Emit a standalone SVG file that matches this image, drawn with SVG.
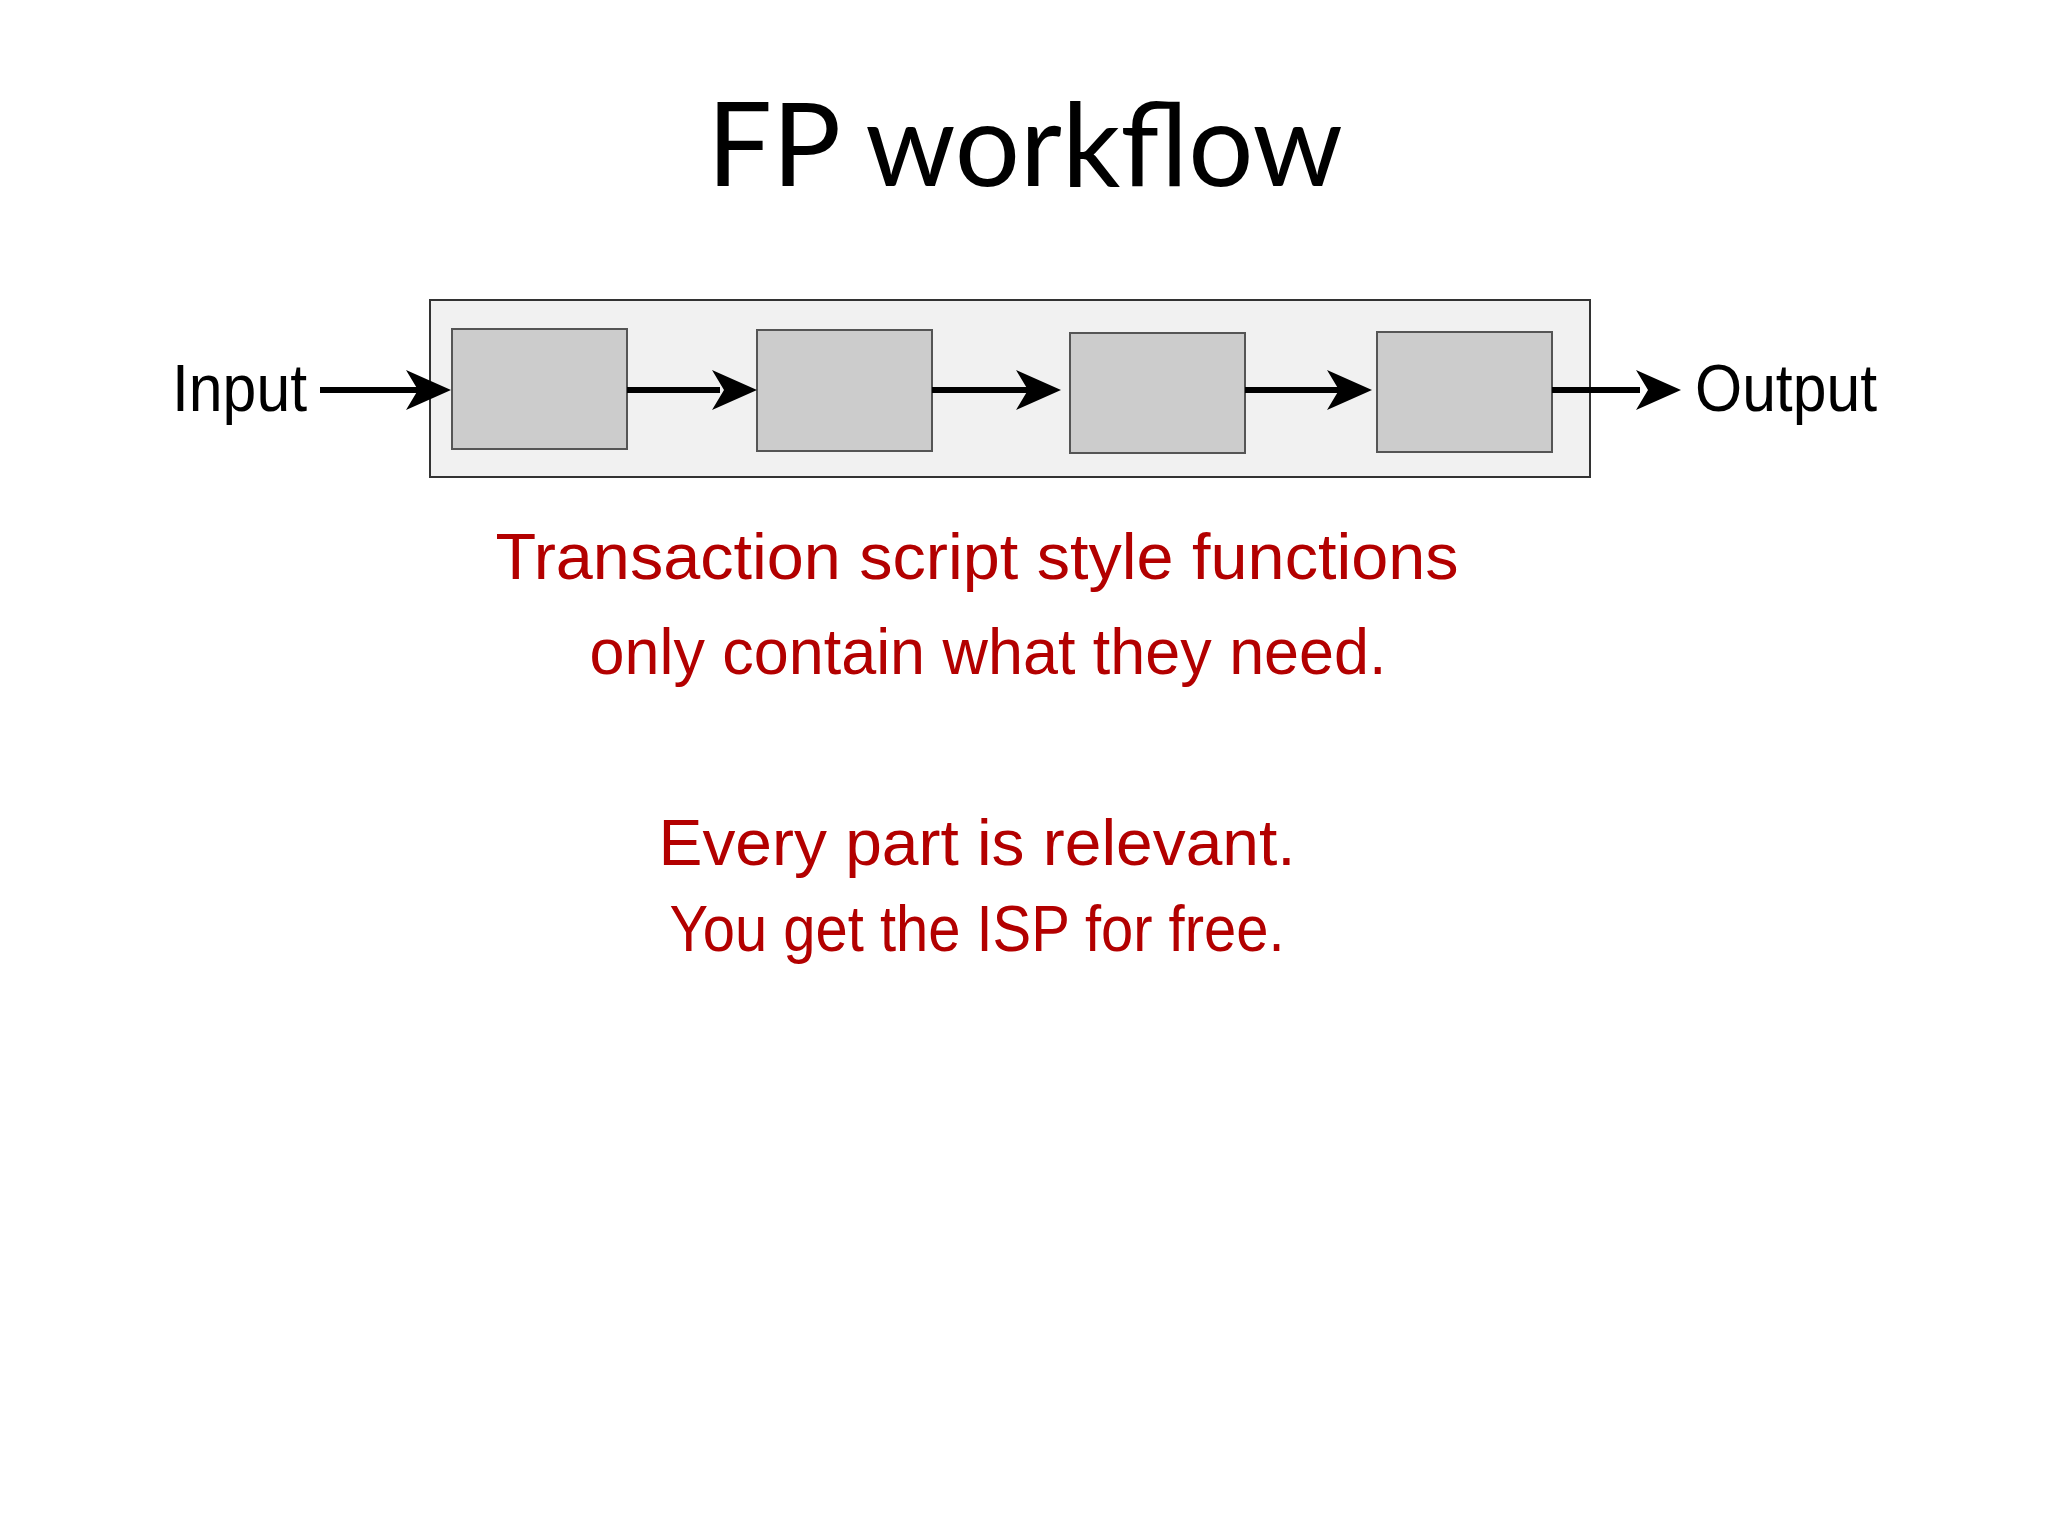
<svg xmlns="http://www.w3.org/2000/svg" width="2048" height="1536" viewBox="0 0 2048 1536">
<style>
.box{fill:#cccccc;stroke:#555;stroke-width:2}
.ln{stroke:#000;stroke-width:6;fill:none}
.hand{font-family:"Liberation Sans Narrow","Liberation Sans",sans-serif;}
.red{fill:#b30000;font-size:64px;text-anchor:middle}
.blk{fill:#000;font-size:66px}
</style>
<defs>
<path id="head" d="M0,-20 L45,0 L0,20 L12,0 Z" fill="#000"/>
</defs>
<rect width="2048" height="1536" fill="#fff"/>
<text x="1025" y="186" text-anchor="middle" font-family="Lato,'Open Sans',sans-serif" font-size="116" fill="#000" textLength="636" lengthAdjust="spacingAndGlyphs">FP workflow</text>
<g id="container"><rect x="430" y="300" width="1160" height="177" fill="#f1f1f1" stroke="#333" stroke-width="2"/></g>
<g id="n1"><rect class="box" x="452" y="329" width="175" height="120"/></g>
<g id="n2"><rect class="box" x="757" y="330" width="175" height="121"/></g>
<g id="n3"><rect class="box" x="1070" y="333" width="175" height="120"/></g>
<g id="n4"><rect class="box" x="1377" y="332" width="175" height="120"/></g>
<g id="connectors">
<line class="ln" x1="320" y1="390" x2="420" y2="390"/><use href="#head" x="406" y="390"/>
<line class="ln" x1="627" y1="390" x2="720" y2="390"/><use href="#head" x="712" y="390"/>
<line class="ln" x1="932" y1="390" x2="1030" y2="390"/><use href="#head" x="1016" y="390"/>
<line class="ln" x1="1245" y1="390" x2="1340" y2="390"/><use href="#head" x="1327" y="390"/>
<line class="ln" x1="1552" y1="390" x2="1640" y2="390"/><use href="#head" x="1636" y="390"/>
</g>
<text class="hand blk" x="172" y="411" textLength="135" lengthAdjust="spacingAndGlyphs">Input</text>
<text class="hand blk" x="1695" y="411" textLength="182" lengthAdjust="spacingAndGlyphs">Output</text>
<text class="hand red" x="977" y="579" textLength="963" lengthAdjust="spacingAndGlyphs">Transaction script style functions</text>
<text class="hand red" x="988" y="674" textLength="797" lengthAdjust="spacingAndGlyphs">only contain what they need.</text>
<text class="hand red" x="977" y="865" textLength="637" lengthAdjust="spacingAndGlyphs">Every part is relevant.</text>
<text class="hand red" x="977" y="951" font-size="54" textLength="615" lengthAdjust="spacingAndGlyphs">You get the ISP for free.</text>
</svg>
